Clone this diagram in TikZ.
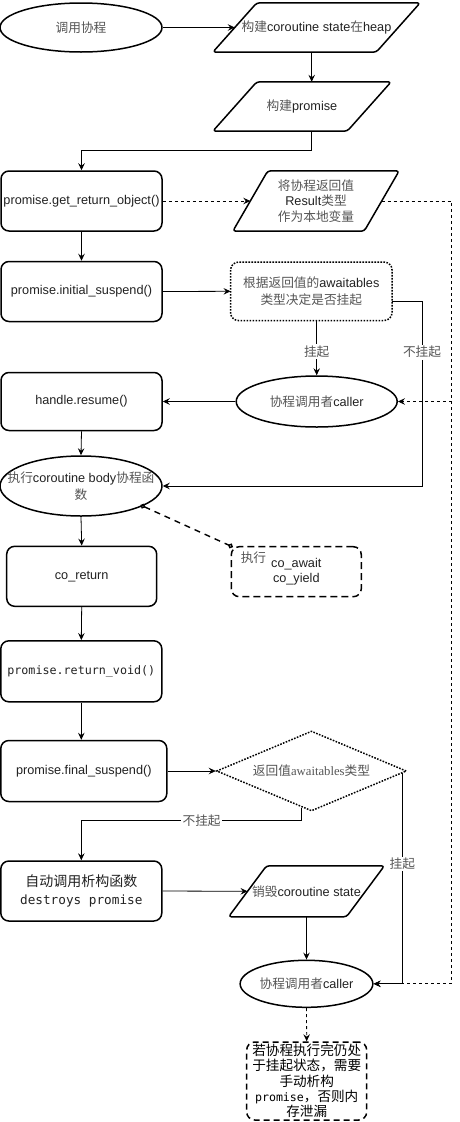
\documentclass[tikz,border=0pt]{standalone}
\usepackage{fontspec}
\setmainfont{Liberation Sans}
\newfontfamily\cjkfont{Noto Sans CJK SC}
\newfontfamily\codefont{DejaVu Sans Mono}
\newfontfamily\romanfont{Liberation Serif}
\usetikzlibrary{shapes.geometric,arrows.meta,calc}

\definecolor{ink}{HTML}{222222}
\definecolor{soft}{HTML}{555555}
\newcommand\zh[1]{{\cjkfont\color{soft}#1}}
\newcommand\zhk[1]{{\cjkfont #1}}

% parallelogram drawn round a text node; #2 is half the horizontal slant
\newcommand\slantbox[2]{\draw[outline, rounded corners=3pt]
  ([xshift=#2]#1.north west) -- ([xshift=#2]#1.north east) --
  ([xshift=-#2]#1.south east) -- ([xshift=-#2]#1.south west) -- cycle;}

\tikzset{
  outline/.style={draw=black, line width=1.5pt, line join=round},
  base/.style={inner sep=0pt, text=ink, align=center,
    font=\fontsize{12.7}{16.7}\selectfont},
  roundbox/.style={base, outline, rectangle, rounded corners=8pt},
  oval/.style={base, outline, ellipse},
  slant/.style={base, rectangle},
  flow/.style={-{Stealth[length=7pt,width=6.5pt,inset=2.5pt]}, line width=0.8pt},
  dashline/.style={line width=0.8pt, dash pattern=on 3pt off 3pt},
  dflow/.style={flow, dash pattern=on 3pt off 3pt},
  hook/.style={{Circle[open,length=5pt]}-{Circle[open,length=5pt]},
    line width=1.4pt, dash pattern=on 6pt off 5pt,
    shorten <=-2.5pt, shorten >=-2.5pt},
  lbl/.style={fill=white, inner sep=1.5pt, text=soft,
    font=\cjkfont\fontsize{12.7}{15}\selectfont},
}

\begin{document}
\begin{tikzpicture}[x=1pt,y=-1pt]
\path[use as bounding box, fill=white] (0,0) rectangle (460,1122);

% ---- nodes ----
\node[oval, minimum width=162pt, minimum height=49pt] (start) at (81,27.5) {\zh{调用协程}};
\node[slant, minimum width=163pt, minimum height=49pt] (heap) at (316.5,27.5)
  {\zh{构建}coroutine state\zh{在}heap};
\slantbox{heap}{22pt}
\node[slant, minimum width=134pt, minimum height=49pt] (mk) at (302,106.5) {\zh{构建}promise};
\slantbox{mk}{22pt}

\node[roundbox, minimum width=161pt, minimum height=60pt] (gro) at (81.5,201)
  {promise.get\_return\_object()};
\node[slant, minimum width=131pt, minimum height=60pt,
  font=\fontsize{12.7}{15.8}\selectfont] (res) at (316,201)
  {\zh{将协程返回值}\\Result\zh{类型}\\\zh{作为本地变量}};
\slantbox{res}{17.5pt}

\node[roundbox, minimum width=161pt, minimum height=60pt] (init) at (81.5,291.5)
  {promise.initial\_suspend()};
\node[roundbox, draw=none, minimum width=160pt, minimum height=57pt] (decide) at (311.3,291.3)
  {\zh{根据返回值的}awaitables\\\zh{类型决定是否挂起}};
\draw[line width=1.5pt, dash pattern=on 1.6pt off 1.4pt, rounded corners=8pt]
  (decide.north west) rectangle (decide.south east);

\node[oval, minimum width=161pt, minimum height=51pt] (call1) at (316.7,401.5)
  {\zh{协程调用者}caller};
\node[roundbox, minimum width=161pt, minimum height=58pt] (resume) at (81.5,401.5)
  {handle.resume()};
% the body label is wider than the ellipse, so it is set on top of it
\node[oval, minimum width=162pt, minimum height=60pt] (body) at (81,486) {};
\node[base] (bodytext) at (body.center)
  {\zh{执行}coroutine body\zh{协程函}\\\zh{数}};

\node[roundbox, draw, dash pattern=on 7pt off 4pt, minimum width=130pt, minimum height=50pt,
  font=\fontsize{12.7}{15.5}\selectfont] (aw) at (296.3,571.7)
  {co\_await\\co\_yield};
\node[roundbox, minimum width=150pt, minimum height=60pt] (ret) at (81.7,576.3) {co\_return};
\node[roundbox, minimum width=161pt, minimum height=61pt,
  font=\codefont\fontsize{11.7}{14}\selectfont] (rv) at (81.3,671.3) {promise.return\_void()};
\node[roundbox, minimum width=166pt, minimum height=61pt] (fs) at (83.8,771)
  {promise.final\_suspend()};
\node[base, diamond, aspect=2.4, minimum width=190pt, minimum height=80pt,
  draw, line width=1.5pt, dash pattern=on 1.6pt off 1.4pt] (kind) at (311.5,771)
  {\zh{返回值}{\romanfont\color{soft}awaitables}\zh{类型}};

\node[roundbox, minimum width=161pt, minimum height=60pt,
  font=\fontsize{14}{18}\selectfont] (destroy) at (81.3,891)
  {\zhk{自动调用析构函数}\\{\codefont\fontsize{12.7}{18}\selectfont destroys promise}};
\node[slant, minimum width=117.5pt, minimum height=50.7pt] (wipe) at (306.5,891.3)
  {\zh{销毁}coroutine state};
\slantbox{wipe}{19pt}
\node[oval, minimum width=113pt, minimum height=47pt] (back) at (306.5,983.8)
  {\zh{协程调用者}caller};
\node[roundbox, draw, dash pattern=on 6pt off 4pt, minimum width=120pt, minimum height=78pt,
  text=black, font=\cjkfont\fontsize{13.6}{15.3}\selectfont] (note) at (306.7,1081)
  {若协程执行完仍处\\于挂起状态，需要\\手动析构\\{\codefont\fontsize{11.6}{15.3}\selectfont promise}，否则内\\存泄漏};

% ---- connectors ----
\draw[flow] (start.east) -- (heap.west);
\coordinate (hd) at ($(heap.south)+(-4.8,0)$);
\draw[flow] (hd) -- (hd |- mk.north);
\coordinate (md) at ($(mk.south)+(9.7,0)$);
\draw[flow] (md) -- ++(0,19.5) -| (gro.north);

\draw[dflow] (gro.east) -- (res.west);
\coordinate (rail) at ($(res.east)+(70,0)$);
\draw[dashline] (res.east) -- (rail) -- (rail |- back.east);
\draw[dflow] (rail |- call1.east) -- (call1.east);
\draw[dflow] (rail |- back.east) -- (back.east);

\draw[flow] (gro.south) -- (init.north);
\draw[flow] (init.east) -- (decide.west);
\draw[flow] (call1.north |- decide.south) -- node[lbl, pos=0.57] {挂起} (call1.north);
\coordinate (dr) at ($(decide.east)+(0,10.4)$);
\draw[flow] (dr) -- ++(30,0) |- node[lbl, pos=0.137] {不挂起} (body.east);

\draw[flow] (call1.west) -- (resume.east);
\draw[flow] (resume.south) -- (body.north);
\draw[flow] (body.south) -- (ret.north);
\draw[hook] (body.-18) -- (aw.north west)
  node[lbl, at end, anchor=north west, fill=none, xshift=8pt, yshift=-3.5pt] {执行};

\draw[flow] (ret.south) -- (rv.north);
\draw[flow] (rv.south) -- (rv.south |- fs.north);
\draw[flow] (fs.east) -- (kind.west);
\coordinate (kl) at ($(kind.south)+(-9.8,-4.1)$);
\draw[flow] (kl) -- ++(0,13) -| node[lbl, pos=0.227] {不挂起} (destroy.north);
\coordinate (kr) at ($(kind.east)+(-5,2)$);
\draw[flow] (kr) |- node[lbl, pos=0.216] {挂起} (back.east);

\draw[flow] (destroy.east) -- (wipe.west);
\draw[flow] (wipe.south) -- (wipe.south |- back.north);
\draw[dflow] (back.south) -- (note.north);
\end{tikzpicture}
\end{document}
